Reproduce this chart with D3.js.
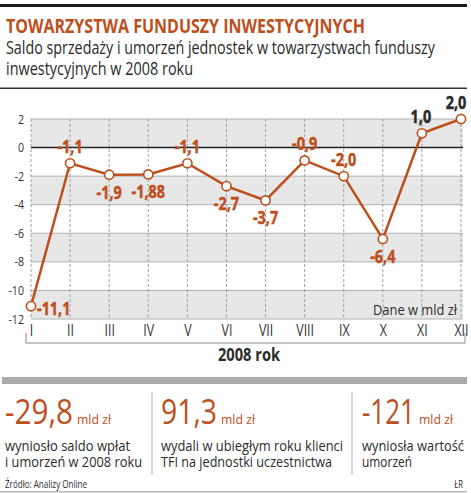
<!DOCTYPE html>
<html>
<head>
<meta charset="utf-8">
<script src="https://cdn.jsdelivr.net/npm/d3@7"></script>
<style>
  body { margin: 0; background: #fff; }
  svg text { font-family: "Open Sans", "Noto Sans", sans-serif; }
</style>
</head>
<body>
<div id="chart"></div>
<script>
// data
const months = ["I", "II", "III", "IV", "V", "VI", "VII", "VIII", "IX", "X", "XI", "XII"];
const saldo = [-11.1, -1.1, -1.9, -1.88, -1.1, -2.7, -3.7, -0.9, -2.0, -6.4, 1.0, 2.0];
const yTicks = [2, 0, -2, -4, -6, -8, -10, -12];
const facts = ["-29,8", "91,3", "-121"];
const factUnit = "mld zł";
const factText = [
	["wyniosło saldo wpłat", "i umorzeń w 2008 roku"],
	["wydali w ubiegłym roku klienci", "TFI na jednostki uczestnictwa"],
	["wyniosła wartość", "umorzeń"]
];

const W = 471, H = 493;
const orange = "#bd4f1d", dark = "#2b2b2b";
const K = 0.76; // horizontal squeeze to mimic the condensed face

const svg = d3.select("#chart").append("svg")
	.attr("width", W)
	.attr("height", H);

// squeeze text horizontally, either by a factor or to a given width
function squeeze(sel, k, width) {
	sel.each(function() {
		const n = this.getComputedTextLength();
		d3.select(this)
			.attr("textLength", width || n * k)
			.attr("lengthAdjust", "spacingAndGlyphs");
	});
	return sel;
}
function label(px, py, txt, size, opts = {}) {
	const t = svg.append("text")
		.attr("x", px).attr("y", py)
		.attr("font-size", size)
		.attr("fill", opts.fill || dark)
		.attr("font-weight", opts.bold ? "bold" : null)
		.attr("text-anchor", opts.anchor || "start")
		.text(txt);
	squeeze(t, K, opts.width);
	return t;
}

// header
svg.append("rect").attr("x", 0).attr("y", 4).attr("width", 467).attr("height", 3).attr("fill", "#1a1a1a");
label(6, 33, "TOWARZYSTWA FUNDUSZY INWESTYCYJNYCH", 20, {fill: orange, bold: true, width: 359});
label(6, 54, "Saldo sprzedaży i umorzeń jednostek w towarzystwach funduszy", 17.5, {width: 429});
label(6, 75, "inwestycyjnych w 2008 roku", 17.5, {width: 187});
svg.append("rect").attr("x", 0).attr("y", 87.5).attr("width", 467).attr("height", 1.5).attr("fill", "#333");

// scales
const x = d3.scalePoint().domain(months).range([31, 461]);
const y = d3.scaleLinear().domain([-12, 2]).range([319, 119]);
const plotL = 31, plotR = 463;

// bands
const g = svg.append("g");
g.selectAll("rect.band")
	.data(d3.range(-12, 2, 2).filter(v => ((v + 12) / 2) % 2 === 0))
	.join("rect")
		.attr("class", "band")
		.attr("x", plotL)
		.attr("width", plotR - plotL)
		.attr("y", d => y(d + 2))
		.attr("height", d => y(d) - y(d + 2))
		.attr("fill", "#e7e7e7");

// horizontal grid
g.selectAll("line.hgrid")
	.data(yTicks)
	.join("line")
		.attr("x1", plotL).attr("x2", plotR)
		.attr("y1", d => y(d)).attr("y2", d => y(d))
		.attr("stroke", d => d === 0 ? "#222" : "#b0b0b0")
		.attr("stroke-width", d => d === 0 ? 1.5 : 1);

// vertical dashed grid
g.selectAll("line.vgrid")
	.data(months)
	.join("line")
		.attr("x1", d => x(d)).attr("x2", d => x(d))
		.attr("y1", y(2)).attr("y2", y(-12))
		.attr("stroke", "#a0a0a0")
		.attr("stroke-dasharray", "3,2");

// y axis
svg.append("g")
	.attr("transform", "translate(24,0)")
	.call(d3.axisLeft(y).tickValues(yTicks).tickSize(0).tickPadding(0).tickFormat(d => String(d)))
	.call(a => a.select(".domain").remove())
	.selectAll("text")
		.attr("font-size", 12.5)
		.attr("fill", "#333")
		.attr("font-family", null)
		.call(s => squeeze(s, 0.85));

// x axis
svg.append("g")
	.attr("transform", `translate(0,${y(-12)})`)
	.call(d3.axisBottom(x).tickSize(0).tickPadding(6))
	.call(a => a.select(".domain").remove())
	.selectAll("text")
		.attr("font-size", 15.5)
		.attr("fill", "#333")
		.attr("font-family", null)
		.call(s => squeeze(s, 0.8));

svg.append("path")
	.attr("d", "M26,333V343H465V333")
	.attr("fill", "none")
	.attr("stroke", "#8a8a8a");
label(249, 361, "2008 rok", 18, {bold: true, anchor: "middle", width: 62});

label(457, 315, "Dane w mld zł", 15, {anchor: "end", width: 84});

// line + points
const line = d3.line().x((d, i) => x(months[i])).y(d => y(d));
svg.append("path")
	.datum(saldo)
	.attr("d", line)
	.attr("fill", "none")
	.attr("stroke", orange)
	.attr("stroke-width", 2.5);

svg.selectAll("circle.pt")
	.data(saldo)
	.join("circle")
		.attr("cx", (d, i) => x(months[i]))
		.attr("cy", d => y(d))
		.attr("r", 4.6)
		.attr("fill", "#fff")
		.attr("stroke", orange)
		.attr("stroke-width", 1.6);

// value labels
const place = ["right", "above", "below", "below", "above", "below", "below", "above", "above", "below", "above", "above"];
const nudge = [0, 0, 0, 0, 0, 0, 0, 0, 0, 0, -1, -5];
const fmt = v => (Math.round(v * 10) === v * 10 ? v.toFixed(1) : v.toFixed(2)).replace(".", ",");
svg.selectAll("text.val")
	.data(saldo)
	.join("text")
		.attr("x", (d, i) => x(months[i]) + (place[i] === "right" ? 6 : nudge[i]))
		.attr("y", (d, i) => y(d) + (place[i] === "right" ? 9 : place[i] === "above" ? -10 : 24))
		.attr("text-anchor", (d, i) => place[i] === "right" ? "start" : "middle")
		.attr("font-weight", "bold")
		.attr("font-size", 18)
		.attr("fill", d => d > 0 ? dark : orange)
		.attr("stroke", d => d > 0 ? dark : orange)
		.attr("stroke-width", 0.5)
		.text(fmt)
		.call(s => squeeze(s, 0.8));

// bottom facts
svg.append("rect").attr("x", 2).attr("y", 377).attr("width", 465).attr("height", 7).attr("fill", "#aaa");
const factX = [5, 161, 362];
const factW = [68, 56, 53];
const textW = [[125, 137], [182, 171], [102, 50]];
[152, 352].forEach(sx => {
	svg.append("line").attr("x1", sx).attr("x2", sx).attr("y1", 392).attr("y2", 475)
		.attr("stroke", "#b5b5b5");
});
facts.forEach((f, i) => {
	label(factX[i], 424, f, 35, {fill: orange, width: factW[i]});
	label(factX[i] + factW[i] + 4, 424, factUnit, 13.5, {fill: orange, width: 34});
	factText[i].forEach((t, j) => {
		label(factX[i], 451 + j * 16, t, 15, {width: textW[i][j]});
	});
});

label(5, 488, "Źródło: Analizy Online", 11, {width: 82});
label(463, 488, "ŁR", 10, {anchor: "end"});
svg.append("rect").attr("x", 0).attr("y", 491).attr("width", 467).attr("height", 1.5).attr("fill", "#bbb");
</script>
</body>
</html>
